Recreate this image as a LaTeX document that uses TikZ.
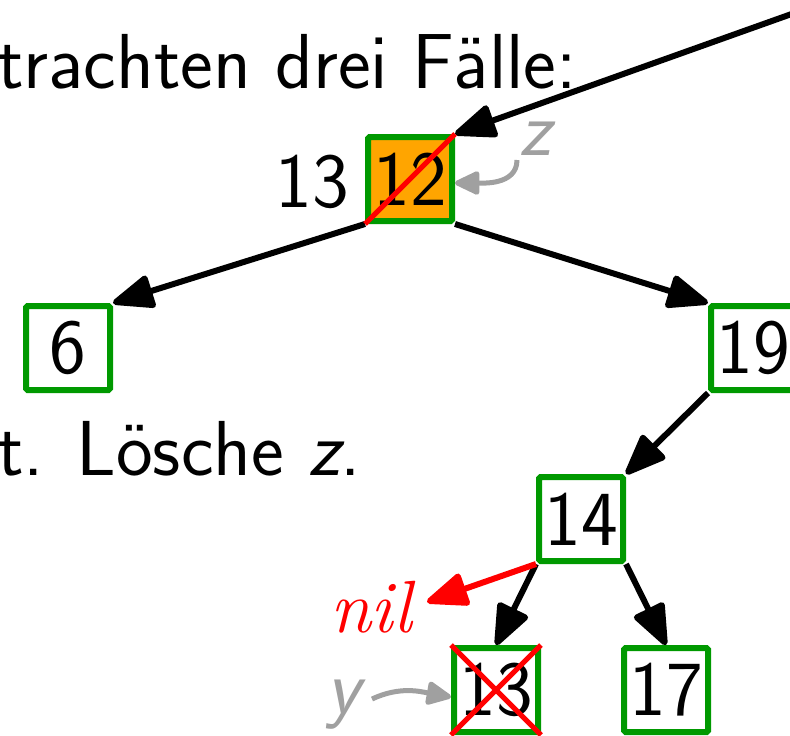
\documentclass[tikz,border=0pt]{standalone}
\usetikzlibrary{arrows.meta}
\definecolor{boxgreen}{RGB}{0,153,0}
\definecolor{keyorange}{RGB}{255,165,0}
\definecolor{lgray}{RGB}{160,160,160}
\begin{document}
\begin{tikzpicture}[x=1pt,y=1pt,
  every node/.style={font=\fontsize{78}{94}\selectfont\sffamily},
  key/.style={draw=boxgreen, line width=6pt, minimum width=84pt, minimum height=84pt, inner sep=0pt, rounded corners=1.5pt},
  edge/.style={line width=6pt, -{Triangle[length=46pt,width=35pt,round]}},
  pointer/.style={lgray, line width=5pt, -{Triangle[length=28pt,width=25pt,round]}},
  strike/.style={red, line width=5pt}]
\useasboundingbox (0,0) rectangle (790,-736);
% text
\node[anchor=base west, inner sep=0pt] (t1) at (-3,-88) {trachten drei Fälle:};
\node[anchor=base west, inner sep=0pt] (t2) at (-3,-475) {t. Lösche \textsl{z}.};
% nodes
\node[key, fill=keyorange] (n12) at (410,-179) {12};
\node[key] (n6) at (68,-348) {6};
\node[key] (n19) at (753,-348) {19};
\node[key] (n14) at (581,-519) {14};
\node[key] (n13) at (496,-690) {13};
\node[key] (n17) at (666,-690) {17};
\node[anchor=base east, inner sep=0pt] (k13) at (349,-207) {13};
\node[anchor=base west, inner sep=0pt, lgray] (z) at (519,-155) {\textsl{z}};
\node[anchor=base west, inner sep=0pt, lgray] (y) at (326,-713) {\textsl{y}};
\node[anchor=base west, inner sep=0pt, red] (nil) at (330,-632) {\fontsize{74}{90}\selectfont\rmfamily\itshape nil};
\coordinate (root) at (800,-11);
\coordinate (nilend) at (427,-602);
\coordinate (zs) at (517,-160);
\coordinate (ys) at (372,-699);
% edges
\draw[edge] (root) -- (n12.north east);
\draw[edge] (n12.south west) -- (n6.north east);
\draw[edge] (n12.south east) -- (n19.north west);
\draw[edge] (n19.south west) -- (n14.north east);
\draw[edge] (n14.south west) -- (n13.north);
\draw[edge] (n14.south east) -- (n17.north);
\draw[edge, red] (n14.south west) -- (nilend);
% pointers
\draw[pointer] (zs) to[out=-90,in=0] ([yshift=-4pt]n12.east);
\draw[pointer] (ys) to[out=25,in=170] ([yshift=-7pt]n13.west);
% strikes
\draw[strike] (n12.south west) -- (n12.north east);
\draw[strike] (n13.south west) -- (n13.north east);
\draw[strike] (n13.north west) -- (n13.south east);
\end{tikzpicture}
\end{document}
